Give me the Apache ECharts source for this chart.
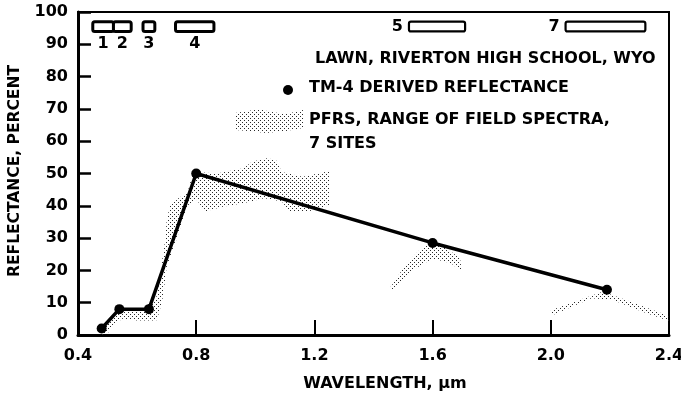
<!DOCTYPE html>
<html>
<head>
<meta charset="utf-8">
<script src="https://cdn.jsdelivr.net/npm/echarts@6/dist/echarts.min.js"></script>
<style>
  html, body { margin: 0; padding: 0; background: #fff; }
  #chart { width: 681px; height: 395px; }
</style>
</head>
<body>
<div id="chart"></div>
<script>
// TM-4 derived reflectance at the band centres (wavelength in µm, reflectance in %)
const tmWavelength  = [0.48, 0.54, 0.64, 0.80, 1.60, 2.19];
const tmReflectance = [2, 8, 8, 50, 28.5, 14];

// Thematic Mapper band passes (µm)
const bandNames = ['1', '2', '3', '4', '5', '7'];
const bandStart = [0.45, 0.52, 0.62, 0.73, 1.52, 2.05];
const bandEnd   = [0.52, 0.58, 0.66, 0.86, 1.71, 2.32];

// Axis ticks
const xTicks = [0.4, 0.8, 1.2, 1.6, 2.0, 2.4];
const yTicks = [0, 10, 20, 30, 40, 50, 60, 70, 80, 90, 100];

// PFRS range of field spectra: upper edge (rising wavelength) and lower edge (falling wavelength)
const pfrsVisUpper = [[0.475, 1], [0.49, 3], [0.53, 7.5], [0.56, 8], [0.62, 8.5], [0.655, 10.5],
  [0.666, 12], [0.676, 17], [0.686, 24], [0.696, 30], [0.70, 35.5], [0.711, 40], [0.742, 42.5],
  [0.77, 44], [0.785, 49], [0.80, 50.5], [0.87, 50], [0.96, 51.6], [0.99, 53.7], [1.04, 54.7],
  [1.07, 54.2], [1.09, 50.5], [1.16, 49], [1.236, 50.5], [1.25, 51]];
const pfrsVisLower = [[1.25, 40.2], [1.18, 38.2], [1.115, 38.2], [1.09, 41.3], [1.03, 42.3],
  [0.96, 40.8], [0.89, 39.7], [0.83, 38.2], [0.80, 42], [0.77, 40], [0.735, 30], [0.70, 21],
  [0.688, 12], [0.675, 7], [0.665, 4.5], [0.60, 4.5], [0.55, 5], [0.52, 3], [0.50, 0.5], [0.48, 0]];
const pfrsSwir1Upper = [[1.451, 13.9], [1.512, 22.2], [1.556, 26.3], [1.594, 28.4], [1.649, 26.8],
  [1.693, 23.7], [1.699, 19.6]];
const pfrsSwir1Lower = [[1.662, 22.2], [1.60, 23.7], [1.534, 20.1], [1.468, 13.9]];
const pfrsSwir2Upper = [[2.0, 7.7], [2.175, 13.4], [2.222, 11.9], [2.391, 6.2], [2.4, 5.6]];
const pfrsSwir2Lower = [[2.4, 4.3], [2.31, 7.2], [2.21, 10.8], [2.138, 11.4], [2.007, 6.2]];

const pfrsRegions = [
  pfrsVisUpper.concat(pfrsVisLower),
  pfrsSwir1Upper.concat(pfrsSwir1Lower),
  pfrsSwir2Upper.concat(pfrsSwir2Lower)
];

const FAMILY = '"DejaVu Sans", "Liberation Sans", sans-serif';
const FONT = 'bold 16px ' + FAMILY;

// small dotted tile used as the stipple fill
function stippleTile() {
  const c = document.createElement('canvas');
  c.width = 4; c.height = 4;
  const g = c.getContext('2d');
  g.fillStyle = '#2a2a2a';
  g.fillRect(0, 0, 1, 1);
  g.fillRect(2, 2, 1, 1);
  return c;
}
const stipple = { image: stippleTile(), repeat: 'repeat' };

const chart = echarts.init(document.getElementById('chart'), null, { renderer: 'canvas' });

const option = {
  animation: false,
  backgroundColor: '#fff',
  grid: {
    left: 78, right: 12, top: 12, bottom: 60,
    containLabel: false, outerBoundsMode: 'none',
    show: true, borderColor: '#000', borderWidth: 2
  },
  xAxis: {
    type: 'value', min: xTicks[0], max: xTicks[xTicks.length - 1], interval: 0.4,
    axisLine: { lineStyle: { color: '#000', width: 3 } },
    axisTick: { inside: true, length: 15, lineStyle: { color: '#000', width: 2 } },
    splitLine: { show: false },
    axisLabel: {
      color: '#000', fontFamily: FAMILY, fontWeight: 'bold', fontSize: 16, margin: 13,
      formatter: v => v.toFixed(1)
    }
  },
  yAxis: {
    type: 'value', min: yTicks[0], max: yTicks[yTicks.length - 1], interval: 10,
    axisLine: { lineStyle: { color: '#000', width: 3 } },
    axisTick: { inside: true, length: 13, lineStyle: { color: '#000', width: 2.5 } },
    splitLine: { show: false },
    axisLabel: { color: '#000', fontFamily: FAMILY, fontWeight: 'bold', fontSize: 16, margin: 10 }
  },
  series: [
    {
      // range of field spectra, stippled
      type: 'custom',
      z: 1,
      silent: true,
      data: pfrsRegions.map((_, i) => [i]),
      encode: { x: -1, y: -1 },
      renderItem: (params, api) => {
        const pts = pfrsRegions[api.value(0)].map(p => api.coord(p));
        return { type: 'polygon', shape: { points: pts }, style: { fill: stipple, stroke: null } };
      }
    },
    {
      // TM band passes with their numbers
      type: 'custom',
      z: 3,
      silent: true,
      data: bandNames.map((n, i) => [bandStart[i], bandEnd[i]]),
      renderItem: (params, api) => {
        const i = params.dataIndex;
        const a = api.coord([api.value(0), 97]);
        const b = api.coord([api.value(1), 94]);
        const nir = api.value(0) < 1.0;
        const label = nir
          ? { type: 'text', style: { text: bandNames[i], x: (a[0] + b[0]) / 2, y: b[1] + 4,
              align: 'center', verticalAlign: 'top', font: FONT, fill: '#000' } }
          : { type: 'text', style: { text: bandNames[i], x: a[0] - 6, y: (a[1] + b[1]) / 2,
              align: 'right', verticalAlign: 'middle', font: FONT, fill: '#000' } };
        return {
          type: 'group',
          children: [
            { type: 'rect', shape: { x: a[0], y: a[1], width: b[0] - a[0], height: b[1] - a[1], r: 2 },
              style: { fill: '#fff', stroke: '#000', lineWidth: nir ? 3 : 2.2 } },
            label
          ]
        };
      }
    },
    {
      name: 'TM-4 DERIVED REFLECTANCE',
      type: 'line',
      z: 4,
      data: tmWavelength.map((x, i) => [x, tmReflectance[i]]),
      symbol: 'circle',
      symbolSize: 10,
      itemStyle: { color: '#000' },
      lineStyle: { color: '#000', width: 3.5 }
    }
  ],
  graphic: [
    { type: 'text', left: 315, top: 51,
      style: { text: 'LAWN, RIVERTON HIGH SCHOOL, WYO', font: FONT, fill: '#000' } },
    { type: 'circle', shape: { cx: 288, cy: 90, r: 5 }, style: { fill: '#000' } },
    { type: 'text', left: 309, top: 80,
      style: { text: 'TM-4 DERIVED REFLECTANCE', font: FONT, fill: '#000' } },
    { type: 'polygon',
      shape: { points: [[235, 113], [248, 111], [258, 109], [272, 112], [286, 114], [303, 110],
        [303, 128], [286, 131], [266, 133], [248, 131], [235, 130]] },
      style: { fill: stipple } },
    { type: 'text', left: 309, top: 112,
      style: { text: 'PFRS, RANGE OF FIELD SPECTRA,', font: FONT, fill: '#000' } },
    { type: 'text', left: 309, top: 136,
      style: { text: '7 SITES', font: FONT, fill: '#000' } },
    { type: 'text', x: 15, y: 171, rotation: Math.PI / 2,
      style: { text: 'REFLECTANCE, PERCENT', font: 'bold 15.5px ' + FAMILY, fill: '#000',
        align: 'center', verticalAlign: 'middle' } },
    { type: 'text', x: 385, y: 384,
      style: { text: 'WAVELENGTH, µm', font: FONT, fill: '#000', align: 'center', verticalAlign: 'middle' } }
  ]
};

chart.setOption(option);
</script>
</body>
</html>
